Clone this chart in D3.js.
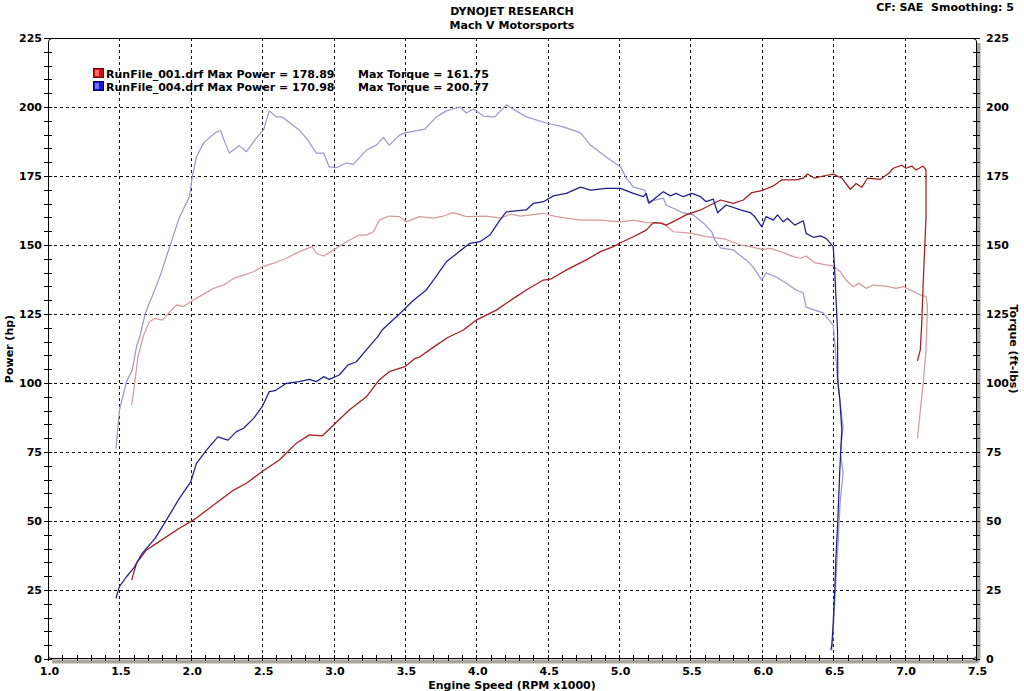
<!DOCTYPE html>
<html><head><meta charset="utf-8">
<script src="https://cdn.jsdelivr.net/npm/d3@7"></script>
<style>
html,body{margin:0;padding:0;background:#fff;}
svg text{font-family:"DejaVu Sans",Verdana,sans-serif;font-weight:bold;font-size:11px;fill:#000;}
</style></head>
<body><svg id="chart" width="1024" height="691"></svg>
<script>
// ---- data ----
const titleLines = ["DYNOJET RESEARCH", "Mach V Motorsports"];
const cornerText = "CF: SAE  Smoothing: 5";
const xTickLabels = [1.0,1.5,2.0,2.5,3.0,3.5,4.0,4.5,5.0,5.5,6.0,6.5,7.0,7.5];
const yTickLabels = [0,25,50,75,100,125,150,175,200,225];
const legendNames = ["RunFile_001.drf", "RunFile_004.drf"];
const legendMaxPower = ["178.89", "170.98"];
const legendMaxTorque = ["161.75", "200.77"];

// Run 001 power (hp)
const run001PowerRpm = [1.586,1.62,1.69,1.76,1.92,2.02,2.16,2.30,2.39,2.50,2.62,2.74,2.83,2.92,3.00,3.11,3.23,3.32,3.39,3.50,3.57,3.60,3.70,3.80,3.91,4.00,4.14,4.21,4.28,4.35,4.47,4.52,4.63,4.70,4.77,4.87,4.96,5.01,5.10,5.19,5.24,5.29,5.33,5.40,5.47,5.57,5.64,5.71,5.80,5.87,5.93,6.00,6.08,6.14,6.24,6.29,6.32,6.37,6.43,6.50,6.56,6.62,6.66,6.70,6.74,6.83,6.89,6.92,6.98,7.01,7.05,7.08,7.13,7.15,7.15,7.13,7.12,7.11,7.09];
const run001Power = [28.6,34.7,39.5,41.9,47.4,50.4,55.8,61.2,63.7,67.9,72.1,78.2,81.2,80.8,84.8,90.2,95.0,101.1,104.1,105.9,108.9,109.3,113.0,116.5,119.2,122.8,126.4,128.9,131.3,133.7,137.3,137.6,140.9,142.8,144.6,147.6,149.4,150.8,153.0,155.4,158.1,157.9,157.2,159.0,160.9,162.7,164.5,166.3,165.1,166.3,169.0,169.7,171.4,173.6,173.6,174.2,175.7,174.2,175.0,175.7,174.2,170.2,172.3,170.9,174.2,173.8,176.0,177.8,178.89,177.8,178.6,177.2,178.6,177.2,160.3,136.1,121.6,112.0,108.0];

// Run 001 torque (ft-lbs)
const run001TorqueRpm = [1.586,1.61,1.63,1.667,1.71,1.75,1.80,1.90,1.95,2.00,2.06,2.16,2.23,2.30,2.37,2.44,2.50,2.58,2.67,2.76,2.85,2.88,2.93,3.00,3.09,3.18,3.23,3.28,3.32,3.39,3.46,3.51,3.60,3.70,3.77,3.84,3.93,4.07,4.17,4.24,4.31,4.47,4.56,4.73,4.87,5.01,5.10,5.19,5.31,5.38,5.50,5.61,5.71,5.75,5.85,5.92,6.00,6.06,6.13,6.22,6.27,6.31,6.37,6.45,6.50,6.55,6.59,6.64,6.68,6.73,6.78,6.87,6.94,6.99,7.04,7.11,7.15,7.16,7.15,7.13,7.11,7.09];
const run001Torque = [92.0,101.0,109.5,117.0,122.2,123.4,122.8,128.3,127.7,129.5,131.3,134.3,135.5,137.9,139.1,140.3,142.1,143.4,145.2,147.6,149.4,147.0,146.0,148.2,151.2,153.6,153.6,154.8,159.0,160.5,160.3,158.4,160.3,159.7,160.5,161.75,160.3,160.5,159.7,161.2,160.5,161.5,160.3,159.0,159.0,158.4,159.0,158.1,157.9,154.8,154.3,153.0,152.4,152.0,150.0,149.4,148.4,148.8,147.6,145.8,145.2,146.0,143.6,142.8,142.4,140.3,137.3,134.9,136.1,134.3,135.5,135.1,134.3,134.9,133.7,131.9,131.3,127.7,112.0,100.0,90.0,80.0];

// Run 004 power (hp)
const run004PowerRpm = [1.476,1.50,1.55,1.60,1.66,1.75,1.83,1.92,2.00,2.04,2.11,2.19,2.26,2.32,2.37,2.44,2.50,2.55,2.59,2.67,2.76,2.83,2.88,2.93,2.97,3.04,3.10,3.16,3.23,3.31,3.34,3.465,3.56,3.65,3.70,3.79,3.885,3.955,4.025,4.095,4.165,4.21,4.35,4.40,4.47,4.54,4.63,4.73,4.80,4.91,5.01,5.10,5.17,5.19,5.21,5.26,5.31,5.36,5.40,5.45,5.51,5.57,5.61,5.66,5.69,5.75,5.85,5.92,5.95,6.00,6.03,6.08,6.11,6.15,6.18,6.23,6.29,6.31,6.36,6.41,6.45,6.50,6.511,6.53,6.532,6.546,6.56,6.546,6.532,6.518,6.511,6.504,6.497,6.49,6.483];
const run004Power = [22.0,26.2,29.8,32.9,38.3,43.7,50.4,58.2,64.2,70.9,75.7,80.5,79.3,82.4,83.6,87.2,91.4,96.9,97.2,99.9,100.5,101.3,100.5,102.3,101.3,102.9,106.5,107.7,112.0,116.8,119.2,125.2,130.0,133.7,137.3,143.9,147.8,150.6,151.2,153.6,159.0,162.0,162.7,165.1,165.7,167.8,168.7,170.98,169.9,170.5,170.5,168.7,167.5,168.7,165.1,167.3,169.3,167.8,168.7,167.5,168.7,167.5,165.7,166.6,161.7,164.5,162.7,161.7,160.3,156.6,160.3,159.0,160.9,158.4,159.7,157.2,158.8,154.2,152.8,153.3,152.4,149.4,140.0,119.0,101.0,94.0,83.0,68.5,50.0,36.0,25.0,17.8,10.5,5.0,3.3];

// Run 004 torque (ft-lbs)
const run004TorqueRpm = [1.476,1.49,1.50,1.55,1.59,1.62,1.644,1.68,1.78,1.85,1.92,1.99,2.01,2.04,2.09,2.18,2.21,2.24,2.27,2.34,2.39,2.46,2.51,2.55,2.60,2.64,2.76,2.82,2.88,2.93,2.97,3.02,3.09,3.14,3.23,3.30,3.35,3.39,3.465,3.50,3.64,3.72,3.79,3.885,3.93,3.98,4.05,4.13,4.21,4.28,4.35,4.49,4.61,4.73,4.80,4.91,5.01,5.05,5.10,5.18,5.20,5.31,5.33,5.45,5.52,5.59,5.65,5.67,5.71,5.80,5.89,5.94,6.00,6.03,6.10,6.17,6.24,6.29,6.31,6.37,6.43,6.50,6.515,6.53,6.569,6.55,6.569,6.548,6.534,6.523,6.51,6.50,6.49];
const run004Torque = [76.3,84.2,90.2,100.5,104.7,113.2,117.0,125.0,138.0,149.0,160.0,167.4,174.6,182.0,187.0,191.0,191.4,187.0,183.3,186.0,183.8,188.8,191.7,198.6,196.4,196.4,191.7,188.0,183.3,183.3,178.3,178.0,179.7,179.3,184.4,186.2,189.0,186.2,189.9,190.6,192.0,196.4,198.6,200.0,197.8,199.3,196.7,196.4,200.77,198.6,196.4,194.2,192.8,190.6,186.2,181.9,178.3,174.3,171.0,169.9,165.6,167.0,164.5,161.6,160.9,158.0,154.7,151.8,149.0,148.2,144.6,142.0,137.3,139.9,138.4,136.2,133.7,132.6,127.5,126.4,125.4,121.0,112.0,101.0,84.0,74.6,67.4,56.5,42.0,32.2,20.0,10.0,3.0];

const seriesColors = {p001:"#a51d1d", t001:"#d69a9c", p004:"#1f1f8e", t004:"#9a9acc"};

// ---- drawing ----
const svg = d3.select("#chart");
const x = d3.scaleLinear().domain([1.0, 7.5]).range([48, 976]);
const y = d3.scaleLinear().domain([0, 225]).range([659, 38]);
const X0 = x(1.0), X1 = x(7.5), Y0 = y(0), Y1 = y(225);

// grid
const gridX = xTickLabels.filter(v => v > 1.0 && v < 7.5);
const gridY = yTickLabels.filter(v => v > 0 && v < 225);
svg.append("g").selectAll("line").data(gridX).join("line")
  .attr("x1", d => Math.round(x(d)) + 0.5).attr("x2", d => Math.round(x(d)) + 0.5)
  .attr("y1", Y1).attr("y2", Y0)
  .attr("stroke", "#111").attr("stroke-dasharray", "3,3").attr("shape-rendering", "crispEdges");
svg.append("g").selectAll("line").data(gridY).join("line")
  .attr("y1", d => Math.round(y(d)) + 0.5).attr("y2", d => Math.round(y(d)) + 0.5)
  .attr("x1", X0).attr("x2", X1)
  .attr("stroke", "#111").attr("stroke-dasharray", "3,3").attr("shape-rendering", "crispEdges");

// frame shadow (right and bottom)
svg.append("path")
  .attr("d", `M${X1+2.5},${Y1+5} V${Y0-1} Q${X1+2.5},${Y0+2.5} ${X1-1},${Y0+2.5} H${X0+4}`)
  .attr("fill", "none").attr("stroke", "#a9a59d").attr("stroke-width", 4);
// frame
svg.append("path")
  .attr("d", `M${X0+0.5},${Y0-3} V${Y1+4} Q${X0+0.5},${Y1+0.5} ${X0+4},${Y1+0.5} H${X1-4} Q${X1+0.5},${Y1+0.5} ${X1+0.5},${Y1+4} V${Y0-3} Q${X1+0.5},${Y0-0.5} ${X1-3},${Y0-0.5} H${X0+3} Q${X0+0.5},${Y0-0.5} ${X0+0.5},${Y0-3}`)
  .attr("fill", "none").attr("stroke", "#000").attr("stroke-width", 1);

// ticks
const xMinor = d3.range(10, 76).map(v => v / 10);
const yMinor = d3.range(0, 226, 5);
const tickG = svg.append("g").attr("shape-rendering", "crispEdges");
tickG.selectAll(".xt").data(xMinor).join("line")
  .attr("x1", d => Math.round(x(d)) + 0.5).attr("x2", d => Math.round(x(d)) + 0.5)
  .attr("y1", Y0 - 4).attr("y2", Y0 + 2).attr("stroke", "#000");
tickG.selectAll(".yl").data(yMinor).join("line")
  .attr("y1", d => Math.round(y(d)) + 0.5).attr("y2", d => Math.round(y(d)) + 0.5)
  .attr("x1", X0 - 4).attr("x2", X0 + 4).attr("stroke", "#000");
tickG.selectAll(".yr").data(yMinor).join("line")
  .attr("y1", d => Math.round(y(d)) + 0.5).attr("y2", d => Math.round(y(d)) + 0.5)
  .attr("x1", X1 - 3).attr("x2", X1 + 4).attr("stroke", "#000");

// tick labels
const xAxis = d3.axisBottom(x).tickValues(xTickLabels).tickFormat(d3.format(".1f")).tickSize(0).tickPadding(0);
const gx = svg.append("g").attr("transform", `translate(1,${Y0 + 8})`).call(xAxis);
gx.select(".domain").remove();
gx.selectAll("text").attr("dy", "0.71em").style("font-size", "11px").style("font-family", "DejaVu Sans").style("font-weight", "bold").attr("fill", "#000");

const yAxisL = d3.axisLeft(y).tickValues(yTickLabels).tickFormat(d3.format("d")).tickSize(0).tickPadding(0);
const gyl = svg.append("g").attr("transform", `translate(${X0 - 6},0)`).call(yAxisL);
gyl.select(".domain").remove();
gyl.selectAll("text").style("font-size", "11px").style("font-family", "DejaVu Sans").style("font-weight", "bold").attr("fill", "#000");

const yAxisR = d3.axisRight(y).tickValues(yTickLabels).tickFormat(d3.format("d")).tickSize(0).tickPadding(0);
const gyr = svg.append("g").attr("transform", `translate(${X1 + 10},0)`).call(yAxisR);
gyr.select(".domain").remove();
gyr.selectAll("text").style("font-size", "11px").style("font-family", "DejaVu Sans").style("font-weight", "bold").attr("fill", "#000");

// curves
const line = d3.line().x(d => x(d[0])).y(d => y(d[1]));
const curves = [
  [run001TorqueRpm, run001Torque, seriesColors.t001],
  [run004TorqueRpm, run004Torque, seriesColors.t004],
  [run001PowerRpm, run001Power, seriesColors.p001],
  [run004PowerRpm, run004Power, seriesColors.p004]
];
const cg = svg.append("g");
curves.forEach(([xs, ys, c]) => {
  const pts = xs.map((r, i) => [r, ys[i]]);
  cg.append("path").datum(pts).attr("d", line)
    .attr("fill", "none").attr("stroke", c).attr("stroke-width", 1.25).attr("stroke-linejoin", "round");
});

// titles
svg.append("text").attr("x", 512).attr("y", 15).attr("text-anchor", "middle").text(titleLines[0]);
svg.append("text").attr("x", 512).attr("y", 29).attr("text-anchor", "middle").text(titleLines[1]);
svg.append("text").attr("x", 1014).attr("y", 11).attr("text-anchor", "end").attr("xml:space", "preserve").text(cornerText);

// axis titles
svg.append("text").attr("x", 512).attr("y", 689).attr("text-anchor", "middle").text("Engine Speed (RPM x1000)");
svg.append("text").attr("transform", "translate(13,349) rotate(-90)").attr("text-anchor", "middle").text("Power (hp)");
svg.append("text").attr("transform", "translate(1010,349) rotate(90)").attr("text-anchor", "middle").text("Torque (ft-lbs)");

// legend
const legColors = [["#ff6a6a", "#d01010", "#7a0000"], ["#7070ff", "#1818c8", "#00006a"]];
const lg = svg.append("g");
legendNames.forEach((n, i) => {
  const yy = 78 + i * 13;
  lg.append("rect").attr("x", 93.5).attr("y", yy - 9.5).attr("width", 10).attr("height", 9)
    .attr("fill", legColors[i][1]).attr("stroke", legColors[i][2]);
  lg.append("rect").attr("x", 95).attr("y", yy - 8).attr("width", 4).attr("height", 6).attr("fill", legColors[i][0]);
  lg.append("text").attr("x", 106).attr("y", yy).text(`${n} Max Power = ${legendMaxPower[i]}`);
  lg.append("text").attr("x", 358).attr("y", yy).text(`Max Torque = ${legendMaxTorque[i]}`);
});
</script></body></html>
